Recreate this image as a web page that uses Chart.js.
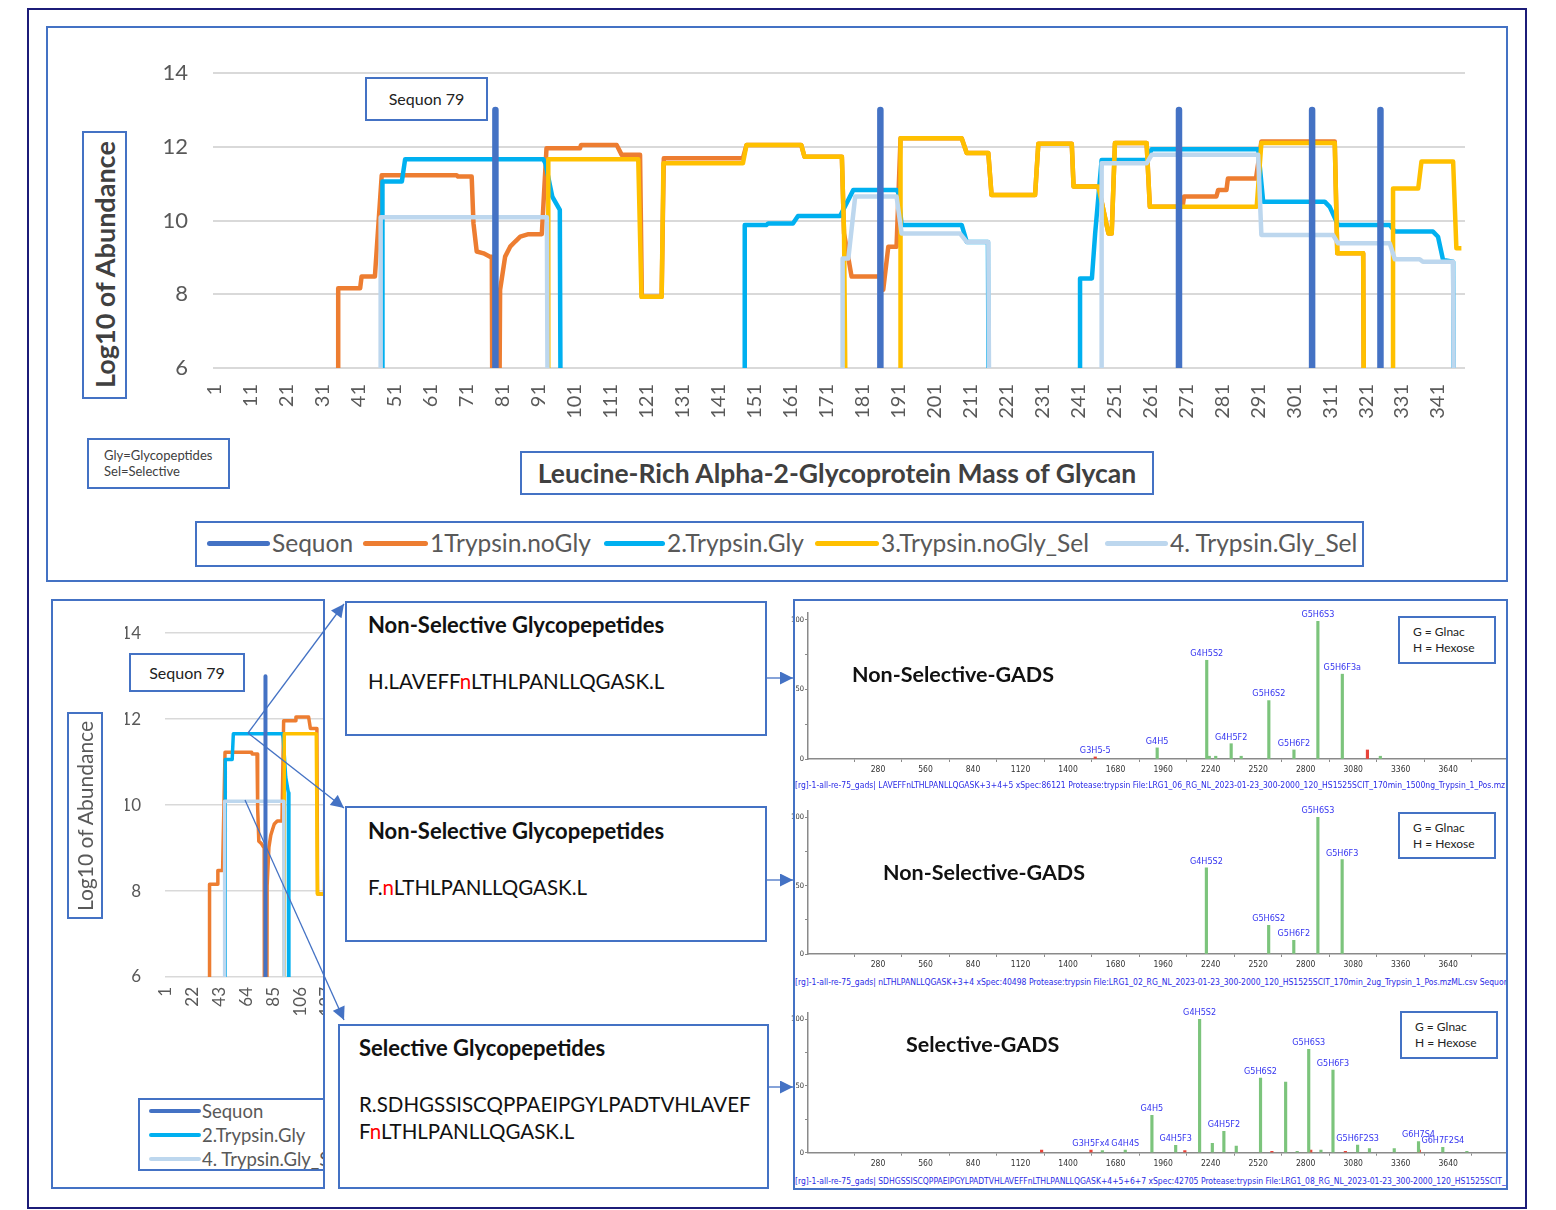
<!DOCTYPE html>
<html>
<head>
<meta charset="utf-8">
<title>Leucine-Rich Alpha-2-Glycoprotein Mass of Glycan</title>
<script src="https://cdn.jsdelivr.net/npm/chart.js@4.4.1/dist/chart.umd.min.js"></script>
<style>
html,body{margin:0;padding:0;background:#fff;}
#page{position:relative;width:1556px;height:1210px;overflow:hidden;font-family:Lato,"Open Sans",sans-serif;color:#404040;}
.a{position:absolute;white-space:nowrap;}
.bx{position:absolute;box-sizing:border-box;border:2px solid #4472C4;background:#fff;}
.frame{position:absolute;box-sizing:border-box;border:2px solid #4472C4;pointer-events:none;}
.vt{display:flex;align-items:center;justify-content:center;writing-mode:vertical-rl;transform:rotate(180deg);}
canvas{position:absolute;}
.pep{position:absolute;font-size:20.5px;color:#111;white-space:nowrap;}
.pep b{font-weight:700;font-size:22px;}
.red{color:#FF0000;}
.cap{position:absolute;font-family:"DejaVu Sans Condensed","Liberation Sans Narrow",sans-serif;font-size:8.5px;color:#2a2ae6;white-space:nowrap;overflow:hidden;}
.gh{font-size:12px;color:#222;line-height:16px;padding:6px 0 0 13px;}
.gt{position:absolute;font-size:21.5px;font-weight:700;color:#111;white-space:nowrap;}
</style>
</head>
<body>
<div id="page">
  <!-- outer frame -->
  <div class="frame" style="left:27px;top:8px;width:1500px;height:1201px;border-color:#1c1c78;"></div>

  <!-- ===== top panel ===== -->
  <canvas id="mainChart" width="1461" height="555" style="left:46px;top:26px;"></canvas>
  <div class="frame" style="left:46px;top:26px;width:1462px;height:556px;"></div>
  <div class="bx vt" style="left:82px;top:131px;width:45px;height:268px;"><span style="font-size:27px;font-weight:700;color:#404040;">Log10 of Abundance</span></div>
  <div class="bx" style="left:365px;top:77px;width:123px;height:44px;text-align:center;line-height:40px;font-size:16px;color:#222;">Sequon 79</div>
  <div class="bx" style="left:87px;top:438px;width:143px;height:51px;font-size:13px;line-height:16px;color:#404040;padding:7px 0 0 15px;">Gly=Glycopeptides<br>Sel=Selective</div>
  <div class="bx" style="left:520px;top:451px;width:634px;height:44px;text-align:center;line-height:40px;font-size:26.5px;font-weight:700;color:#404040;">Leucine-Rich Alpha-2-Glycoprotein Mass of Glycan</div>
  <div class="bx" id="mainLegend" style="left:195px;top:521px;width:1169px;height:46px;"></div>

  <!-- ===== bottom-left mini panel ===== -->
  <div id="miniWrap" class="a" style="left:51px;top:599px;width:273px;height:589px;overflow:hidden;">
    <canvas id="miniChart" width="420" height="589" style="left:0;top:0;"></canvas>
    <div class="bx vt" style="left:16px;top:113px;width:36px;height:207px;"><span style="font-size:21px;color:#595959;">Log10 of Abundance</span></div>
    <div class="bx" style="left:78px;top:54px;width:116px;height:39px;text-align:center;line-height:35px;font-size:16px;color:#222;">Sequon 79</div>
    <div class="bx" id="miniLegend" style="left:87px;top:499px;width:220px;height:73px;"></div>
  </div>
  <div class="frame" style="left:51px;top:599px;width:274px;height:590px;"></div>

  <!-- ===== peptide boxes ===== -->
  <div class="bx" style="left:345px;top:601px;width:422px;height:135px;"></div>
  <div class="pep" style="left:368px;top:611px;"><b>Non-Selective Glycopepetides</b></div>
  <div class="pep" style="left:368px;top:669px;">H.LAVEFF<span class="red">n</span>LTHLPANLLQGASK.L</div>

  <div class="bx" style="left:345px;top:806px;width:422px;height:136px;"></div>
  <div class="pep" style="left:368px;top:817px;"><b>Non-Selective Glycopepetides</b></div>
  <div class="pep" style="left:368px;top:875px;">F.<span class="red">n</span>LTHLPANLLQGASK.L</div>

  <div class="bx" style="left:338px;top:1024px;width:431px;height:165px;"></div>
  <div class="pep" style="left:359px;top:1034px;"><b>Selective Glycopepetides</b></div>
  <div class="pep" style="left:359px;top:1092px;">R.SDHGSSISCQPPAEIPGYLPADTVHLAVEF</div>
  <div class="pep" style="left:359px;top:1119px;">F<span class="red">n</span>LTHLPANLLQGASK.L</div>

  <!-- ===== spectra panel ===== -->
  <canvas id="spec1" width="720" height="182" style="left:790px;top:600px;"></canvas>
  <canvas id="spec2" width="720" height="180" style="left:790px;top:797px;"></canvas>
  <canvas id="spec3" width="720" height="176" style="left:790px;top:1000px;"></canvas>
  <div class="gt" style="left:852px;top:661px;">Non-Selective-GADS</div>
  <div class="gt" style="left:883px;top:859px;">Non-Selective-GADS</div>
  <div class="gt" style="left:906px;top:1031px;">Selective-GADS</div>
  <div class="bx gh" style="left:1398px;top:616px;width:98px;height:48px;">G = Glnac<br>H = Hexose</div>
  <div class="bx gh" style="left:1398px;top:812px;width:98px;height:47px;">G = Glnac<br>H = Hexose</div>
  <div class="bx gh" style="left:1400px;top:1011px;width:98px;height:48px;">G = Glnac<br>H = Hexose</div>
  <div class="cap" style="left:795px;top:780px;width:711px;">[rg]-1-all-re-75_gads| LAVEFFnLTHLPANLLQGASK+3+4+5 xSpec:86121 Protease:trypsin File:LRG1_06_RG_NL_2023-01-23_300-2000_120_HS1525SCIT_170min_1500ng_Trypsin_1_Pos.mzML.csv</div>
  <div class="cap" style="left:795px;top:977px;width:711px;">[rg]-1-all-re-75_gads| nLTHLPANLLQGASK+3+4 xSpec:40498 Protease:trypsin File:LRG1_02_RG_NL_2023-01-23_300-2000_120_HS1525SCIT_170min_2ug_Trypsin_1_Pos.mzML.csv Sequon 79 Tw</div>
  <div class="cap" style="left:795px;top:1176px;width:711px;">[rg]-1-all-re-75_gads| SDHGSSISCQPPAEIPGYLPADTVHLAVEFFnLTHLPANLLQGASK+4+5+6+7 xSpec:42705 Protease:trypsin File:LRG1_08_RG_NL_2023-01-23_300-2000_120_HS1525SCIT_1</div>
  <div class="frame" style="left:793px;top:599px;width:715px;height:591px;"></div>

  <!-- arrows -->
  <svg class="a" width="1556" height="1210" style="left:0;top:0;pointer-events:none;">
    <defs>
      <marker id="ah" viewBox="0 0 10 10" refX="10" refY="5" markerWidth="15" markerHeight="13" markerUnits="userSpaceOnUse" orient="auto">
        <path d="M0,0 L10,5 L0,10 z" fill="#4472C4"/>
      </marker>
    </defs>
    <g stroke="#4472C4" stroke-width="1.3" fill="none" marker-end="url(#ah)">
      <line x1="248" y1="733" x2="344" y2="604"/>
      <line x1="248" y1="733" x2="344" y2="808"/>
      <line x1="245" y1="800" x2="344" y2="1020"/>
      <line x1="767" y1="678" x2="793" y2="678"/>
      <line x1="767" y1="880" x2="793" y2="880"/>
      <line x1="768" y1="1087" x2="793" y2="1087"/>
    </g>
  </svg>
</div>

<script>
// ---------------- data ----------------
const seriesNames = ['Sequon', '1Trypsin.noGly', '2.Trypsin.Gly', '3.Trypsin.noGly_Sel', '4. Trypsin.Gly_Sel'];
const xTickLabels = [1, 11, 21, 31, 41, 51, 61, 71, 81, 91, 101, 111, 121, 131, 141, 151, 161, 171, 181, 191, 201, 211, 221, 231, 241, 251, 261, 271, 281, 291, 301, 311, 321, 331, 341];
const yTickLabels = [6, 8, 10, 12, 14];
const miniXTickLabels = [1, 22, 43, 64, 85, 106, 127, 148];

const sequonSites = [79, 186, 269, 306, 325];
const sequonHeight = 13;

// 1Trypsin.noGly (breakpoints: glycan mass index, log10 abundance; 0 = not detected)
const noGlyX = [35.3, 35.3, 41.4, 41.8, 45.5, 47.4, 68.2, 68.6, 72.4, 72.9, 73.8, 75.7, 77.5, 78.0, 78.3, 79.8, 80.3, 81.7, 83.1, 84.5, 85.9, 88.2, 91.9, 93.2, 102.5, 102.8, 112.7, 114.1, 119.2, 119.7, 125.2, 125.8, 147.8, 148.8, 164.0, 164.9, 175.3, 175.9, 178.0, 185.9, 186.8, 188.2, 190.5, 191.6, 208.6, 210.0, 216.0, 216.9, 229.0, 229.9, 239.2, 239.7, 246.6, 249.4, 250.3, 251.2, 260.0, 260.9, 270.0, 270.4, 279.4, 279.9, 282.2, 282.6, 290.4, 291.9, 312.3, 313.0, 320.2, 320.6];
const noGlyY = [0, 8.16, 8.16, 8.48, 8.48, 11.23, 11.23, 11.19, 11.19, 9.92, 9.16, 9.11, 9.02, 9.02, 0, 0, 8.12, 9.02, 9.29, 9.43, 9.56, 9.63, 9.63, 11.96, 11.96, 12.05, 12.05, 11.78, 11.78, 7.93, 7.93, 11.69, 11.69, 12.05, 12.05, 11.73, 11.73, 9.65, 8.48, 8.48, 8.12, 9.29, 9.29, 12.23, 12.23, 11.83, 11.83, 10.69, 10.69, 12.08, 12.08, 10.92, 10.92, 9.65, 9.65, 12.10, 12.10, 10.37, 10.37, 10.65, 10.65, 10.83, 10.83, 11.14, 11.14, 12.14, 12.14, 9.11, 9.11, 0];

// 2.Trypsin.Gly
const glyX = [47.6, 47.6, 53.0, 53.9, 92.3, 92.9, 94.8, 96.9, 97.3, 148.3, 148.3, 154.3, 154.8, 161.7, 163.1, 174.8, 178.5, 190.5, 191.0, 191.9, 208.6, 210.0, 215.9, 216.3, 241.5, 241.5, 244.8, 245.7, 247.5, 260.0, 261.4, 291.0, 292.4, 309.5, 310.9, 313.2, 327.6, 329.0, 339.6, 341.0, 342.4, 345.2, 345.6];
const glyY = [0, 11.06, 11.06, 11.66, 11.66, 11.55, 10.65, 10.29, 0, 0, 9.88, 9.88, 9.92, 9.92, 10.12, 10.12, 10.83, 10.83, 10.75, 9.88, 9.88, 9.42, 9.42, 0, 0, 8.43, 8.43, 9.65, 11.64, 11.64, 11.93, 11.93, 10.51, 10.51, 10.37, 9.88, 9.88, 9.70, 9.70, 9.56, 8.93, 8.88, 0];

// 3.Trypsin.noGly_Sel
const noGlySelX = [93.7, 93.7, 118.7, 119.6, 125.2, 125.7, 147.8, 148.8, 164.0, 164.9, 175.3, 175.9, 176.8, 191.6, 191.6, 208.6, 210.0, 216.0, 216.9, 229.0, 229.9, 239.2, 239.7, 246.6, 249.4, 250.3, 251.2, 260.0, 260.9, 290.6, 291.9, 312.3, 313.0, 320.2, 320.6, 328.5, 328.5, 335.5, 336.4, 345.2, 346.1, 347.5];
const noGlySelY = [0, 11.66, 11.66, 7.93, 7.93, 11.55, 11.55, 12.05, 12.05, 11.73, 11.73, 9.65, 0, 0, 12.23, 12.23, 11.83, 11.83, 10.69, 10.69, 12.08, 12.08, 10.92, 10.92, 9.65, 9.65, 12.10, 12.10, 10.37, 10.37, 12.10, 12.10, 9.11, 9.11, 0, 0, 10.87, 10.87, 11.60, 11.60, 9.25, 9.25];

// 4. Trypsin.Gly_Sel
const glySelX = [47.1, 47.1, 93.3, 93.7, 175.5, 175.5, 177.1, 179.0, 190.5, 191.9, 208.1, 210.0, 216.0, 216.5, 247.5, 247.5, 260.0, 261.4, 291.0, 291.9, 311.8, 313.2, 327.6, 329.0, 335.9, 336.8, 345.2, 345.6];
const glySelY = [0, 10.09, 10.09, 0, 0, 8.97, 8.97, 10.65, 10.65, 9.65, 9.65, 9.42, 9.42, 0, 0, 11.55, 11.55, 11.78, 11.78, 9.61, 9.61, 9.38, 9.38, 8.95, 8.95, 8.88, 8.88, 0];

// spectra (m/z, relative intensity %)
const specTickLabels = [280, 560, 840, 1120, 1400, 1680, 1960, 2240, 2520, 2800, 3080, 3360, 3640];
const spec1MatchedMass = [1925, 2217, 2232, 2270, 2361, 2420, 2583, 2731, 2872, 3016, 3240];
const spec1MatchedInt  = [8, 71, 2, 2, 11, 2, 42, 6.5, 99, 61, 2];
const spec1OtherMass = [1560, 3164];
const spec1OtherInt  = [1.5, 6.5];
const spec1LabelMass = [1560, 1925, 2217, 2361, 2583, 2731, 2872, 3016];
const spec1LabelText = ['G3H5-5', 'G4H5', 'G4H5S2', 'G4H5F2', 'G5H6S2', 'G5H6F2', 'G5H6S3', 'G5H6F3a'];

const spec2MatchedMass = [2215, 2582, 2730, 2872, 3015];
const spec2MatchedInt  = [63, 21, 10, 100, 69];
const spec2OtherMass = [];
const spec2OtherInt  = [];
const spec2LabelMass = [2215, 2582, 2730, 2872, 3015];
const spec2LabelText = ['G4H5S2', 'G5H6S2', 'G5H6F2', 'G5H6S3', 'G5H6F3'];

const spec3MatchedMass = [1602, 1737, 1894, 2034, 2175, 2250, 2318, 2391, 2534, 2682, 2750, 2818, 2890, 2961, 3106, 3176, 3322, 3465, 3608, 3750];
const spec3MatchedInt  = [1.5, 2, 28, 5.5, 100, 7, 16, 5, 56, 53, 1, 77.5, 2, 62, 5.8, 3, 3, 8.3, 4, 1];
const spec3OtherMass = [1244, 1535, 2088, 2601, 2830, 3034, 3470];
const spec3OtherInt  = [2, 2, 1.5, 1, 2, 1, 2];
const spec3LabelMass = [1535, 1737, 1894, 2034, 2175, 2318, 2534, 2818, 2961, 3106, 3465, 3608];
const spec3LabelText = ['G3H5Fx4', 'G4H4S', 'G4H5', 'G4H5F3', 'G4H5S2', 'G4H5F2', 'G5H6S2', 'G5H6S3', 'G5H6F3', 'G5H6F2S3', 'G6H7S4', 'G6H7F2S4'];

// ---------------- styling ----------------
const FONT = 'Lato, "Open Sans", sans-serif';
const NARROW = '"DejaVu Sans Condensed", "Liberation Sans Narrow", sans-serif';
const colors = ['#4472C4', '#ED7D31', '#00B0F0', '#FFC000', '#BDD7EE'];

function pts(xs, ys) { return xs.map((x, i) => ({ x: x, y: ys[i] })); }
function sequonPts() {
  const out = [];
  sequonSites.forEach(s => { out.push({ x: s, y: 0 }, { x: s, y: sequonHeight }, { x: s, y: null }); });
  return out;
}
function makeDatasets(w, sw) {
  const defs = [
    { data: sequonPts(), borderWidth: sw, borderCapStyle: 'round', order: 0 },
    { data: pts(noGlyX, noGlyY), borderWidth: w, order: 4 },
    { data: pts(glyX, glyY), borderWidth: w, order: 3 },
    { data: pts(noGlySelX, noGlySelY), borderWidth: w, order: 2 },
    { data: pts(glySelX, glySelY), borderWidth: w, order: 1 }
  ];
  return defs.map((d, i) => Object.assign({
    label: seriesNames[i], borderColor: colors[i], backgroundColor: colors[i],
    pointRadius: 0, pointHoverRadius: 0, tension: 0, fill: false,
    borderJoinStyle: 'round', spanGaps: false
  }, d));
}

Chart.defaults.animation = false;

// main chart
new Chart(document.getElementById('mainChart'), {
  type: 'line',
  data: { datasets: makeDatasets(4.5, 6.5) },
  options: {
    responsive: false, animation: false, devicePixelRatio: 1,
    layout: { padding: { left: 107, right: 42, top: 47, bottom: 133 } },
    plugins: { legend: { display: false }, tooltip: { enabled: false } },
    scales: {
      x: {
        type: 'linear', min: 0.5, max: 348.5,
        afterBuildTicks: s => { s.ticks = xTickLabels.map(v => ({ value: v })); },
        afterFit: s => { s.height = 80; },
        grid: { display: false, drawTicks: false }, border: { display: false },
        ticks: { autoSkip: false, maxRotation: 90, minRotation: 90, padding: 16, color: '#595959',
                 font: { family: FONT, size: 20 }, callback: v => String(v) }
      },
      y: {
        min: 6, max: 14,
        afterBuildTicks: s => { s.ticks = yTickLabels.map(v => ({ value: v })); },
        afterFit: s => { s.width = 60; },
        grid: { color: '#D9D9D9', lineWidth: 2, drawTicks: false }, border: { display: false },
        ticks: { padding: 25, color: '#595959', font: { family: FONT, size: 22 } }
      }
    }
  }
});

// mini chart (zoomed view of the first part of the same data)
new Chart(document.getElementById('miniChart'), {
  type: 'line',
  data: { datasets: makeDatasets(3.5, 4) },
  options: {
    responsive: false, animation: false, devicePixelRatio: 1,
    layout: { padding: { left: 74, right: 6, top: 26, bottom: 151 } },
    plugins: { legend: { display: false }, tooltip: { enabled: false } },
    scales: {
      x: {
        type: 'linear', min: 0.5, max: 234.9,
        afterBuildTicks: s => { s.ticks = miniXTickLabels.map(v => ({ value: v })); },
        afterFit: s => { s.height = 60; },
        grid: { display: false, drawTicks: false }, border: { display: false },
        ticks: { autoSkip: false, maxRotation: 90, minRotation: 90, padding: 10, color: '#595959',
                 font: { family: FONT, size: 17 }, callback: v => String(v) }
      },
      y: {
        min: 6, max: 14,
        afterBuildTicks: s => { s.ticks = yTickLabels.map(v => ({ value: v })); },
        afterFit: s => { s.width = 40; },
        grid: { color: '#D9D9D9', lineWidth: 1.5, drawTicks: false }, border: { display: false },
        ticks: { padding: 24, color: '#595959', font: { family: FONT, size: 17 } }
      }
    }
  }
});

// legends
(function () {
  const lg = document.getElementById('mainLegend');
  const slots = [[207, 272], [363, 430], [604, 667], [815, 881], [1105, 1170]];
  seriesNames.forEach((n, i) => {
    const ln = document.createElement('div');
    ln.className = 'a';
    ln.style.cssText = `left:${slots[i][0] - 197}px;top:18px;width:${slots[i][1] - slots[i][0] - 2}px;height:5px;border-radius:3px;background:${colors[i]};`;
    lg.appendChild(ln);
    const t = document.createElement('div');
    t.className = 'a';
    t.style.cssText = `left:${slots[i][1] - 197}px;top:5px;font-size:24.5px;line-height:30px;color:#595959;`;
    t.textContent = n;
    lg.appendChild(t);
  });
  const ml = document.getElementById('miniLegend');
  [0, 2, 4].forEach((si, k) => {
    const ln = document.createElement('div');
    ln.className = 'a';
    ln.style.cssText = `left:9px;top:${9 + k * 24}px;width:52px;height:4px;border-radius:2px;background:${colors[si]};`;
    ml.appendChild(ln);
    const t = document.createElement('div');
    t.className = 'a';
    t.style.cssText = `left:62px;top:${-1 + k * 24}px;font-size:18.5px;line-height:24px;color:#595959;`;
    t.textContent = seriesNames[si];
    ml.appendChild(t);
  });
})();

// spectra
const peakLabelPlugin = {
  id: 'peakLabels',
  afterDatasetsDraw(chart) {
    const cfg = chart.options.plugins.peakLabels;
    if (!cfg) return;
    const { ctx } = chart;
    const x = chart.scales.x, y = chart.scales.y;
    ctx.save();
    ctx.fillStyle = '#3434F0';
    ctx.font = '9px ' + NARROW;
    ctx.textAlign = 'center';
    ctx.textBaseline = 'bottom';
    cfg.mass.forEach((m, i) => {
      let h = 0;
      cfg.peaks.forEach(p => { if (p.x === m) h = Math.max(h, p.y); });
      ctx.fillText(cfg.text[i], x.getPixelForValue(m), y.getPixelForValue(h) - 2);
    });
    ctx.restore();
  }
};

function spectrum(id, mMass, mInt, oMass, oInt, lMass, lText, chartTopPad, plotHeight) {
  const matched = pts(mMass, mInt), other = pts(oMass, oInt);
  const canvas = document.getElementById(id);
  const bottomPad = canvas.height - chartTopPad - plotHeight - 18;
  new Chart(canvas, {
    type: 'bar',
    data: { datasets: [
      { data: matched, backgroundColor: '#7CC47C', barThickness: 2.5, grouped: false },
      { data: other, backgroundColor: '#E8443A', barThickness: 2.5, grouped: false }
    ] },
    options: {
      responsive: false, animation: false, devicePixelRatio: 1,
      layout: { padding: { left: 0, right: 5, top: chartTopPad, bottom: bottomPad } },
      plugins: { legend: { display: false }, tooltip: { enabled: false },
                 peakLabels: { mass: lMass, text: lText, peaks: matched.concat(other) } },
      scales: {
        x: {
          type: 'linear', min: -132.6, max: 3974.6, offset: false,
          afterBuildTicks: s => { s.ticks = specTickLabels.map(v => ({ value: v })); },
          afterFit: s => { s.height = 18; },
          grid: { drawOnChartArea: false, drawTicks: true, tickLength: 3, color: '#8a8a8a' },
          border: { display: true, color: '#8a8a8a', width: 1.5 },
          ticks: { autoSkip: false, maxRotation: 0, padding: 3, color: '#333',
                   font: { family: NARROW, size: 8.5 }, callback: v => String(v) }
        },
        y: {
          min: 0, max: 105,
          afterBuildTicks: s => { s.ticks = [0, 25, 50, 75, 100].map(v => ({ value: v })); },
          afterFit: s => { s.width = 18; },
          grid: { drawOnChartArea: false, drawTicks: true, tickLength: 3, color: '#8a8a8a' },
          border: { display: true, color: '#8a8a8a', width: 1.5 },
          ticks: { padding: 1, color: '#333', font: { family: NARROW, size: 7.5 },
                   callback: v => (v % 50 === 0 ? String(v) : '') }
        }
      }
    },
    plugins: [peakLabelPlugin]
  });
}
spectrum('spec1', spec1MatchedMass, spec1MatchedInt, spec1OtherMass, spec1OtherInt, spec1LabelMass, spec1LabelText, 13, 146);
spectrum('spec2', spec2MatchedMass, spec2MatchedInt, spec2OtherMass, spec2OtherInt, spec2LabelMass, spec2LabelText, 13.5, 143.5);
spectrum('spec3', spec3MatchedMass, spec3MatchedInt, spec3OtherMass, spec3OtherInt, spec3LabelMass, spec3LabelText, 12.6, 140.1);
</script>
</body>
</html>
